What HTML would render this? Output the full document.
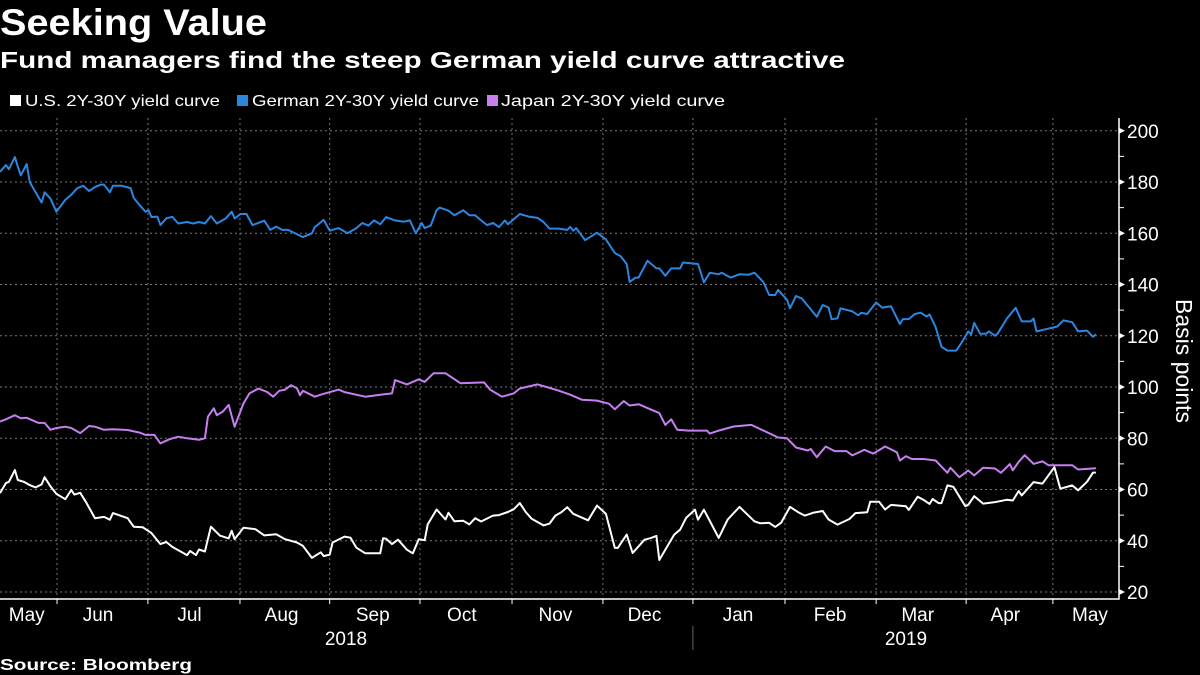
<!DOCTYPE html>
<html><head><meta charset="utf-8"><style>
html,body{margin:0;padding:0;background:#000;}
svg{display:block;font-family:"Liberation Sans","DejaVu Sans",sans-serif;}
</style></head><body>
<svg id="chart" width="1200" height="675" viewBox="0 0 1200 675" xmlns="http://www.w3.org/2000/svg">
<rect width="1200" height="675" fill="#000"/>
<text x="0" y="35" fill="#fff" font-size="37" font-weight="bold" textLength="267" lengthAdjust="spacingAndGlyphs">Seeking Value</text>
<text x="0" y="68" fill="#fff" font-size="23" font-weight="bold" textLength="845" lengthAdjust="spacingAndGlyphs">Fund managers find the steep German yield curve attractive</text>
<g>
<g><rect x="10" y="95" width="11" height="11" fill="#fff"/><text x="25" y="106" fill="#fff" font-size="16" textLength="195" lengthAdjust="spacingAndGlyphs">U.S. 2Y-30Y yield curve</text></g>
<g><rect x="237" y="95" width="11" height="11" fill="#2b86e0"/><text x="252" y="106" fill="#fff" font-size="16" textLength="227" lengthAdjust="spacingAndGlyphs">German 2Y-30Y yield curve</text></g>
<g><rect x="487" y="95" width="11" height="11" fill="#c77ff0"/><text x="501" y="106" fill="#fff" font-size="16" textLength="224" lengthAdjust="spacingAndGlyphs">Japan 2Y-30Y yield curve</text></g>
</g>
<g id="grid"></g>
<g id="axes"></g>
<g id="series"></g>
<text x="0" y="670" fill="#fff" font-size="16" font-weight="bold" textLength="192" lengthAdjust="spacingAndGlyphs">Source: Bloomberg</text>
</svg>
<script>
const yTicks=[20,40,60,80,100,120,140,160,180,200];
const monthLabels=["May","Jun","Jul","Aug","Sep","Oct","Nov","Dec","Jan","Feb","Mar","Apr","May"];
const monthLabelDays=[9,33,63.8,94.8,125.5,155.5,187,217,248.5,279.5,309,338.5,367];
const monthStartDays=[19.2,49.8,80.8,111,141.4,172.4,203,233.3,264.3,295,325.3,354.5];
const yearLabels=["2018","2019"];
const deDays=[0,2,3,5,6,7,9,10,12,14,15,17,19,22,24,26,28,30,32,34,35,37,38,41,44,45,47,49,50,51,53,54,56,58,60,63,65,67,69,71,73,76,78,79,81,83,85,89,91,93,95,97,102,105,106,109,111,114,117,120,122,124,126,128,130,133,136,138,140,142,143,145,147,148,151,153,156,158,160,162,164,166,168,170,171,175,178,181,183,185,188,191,192,193,194,197,201,204,207,209,211,212,214,215,218,221,222,224,226,229,230,235,237,239,242,243,246,249,252,254,257,259,261,262,265,266,268,270,275,277,279,280,282,283,287,289,290,292,295,297,300,303,304,306,308,310,312,313,315,317,319,322,324,326,327,328,330,332,333,335,336,339,342,344,347,348,349,352,356,358,361,363,366,368,369];
const deVals=[184,186.6,185,189.7,186,182.6,187,180,176,172,176,173.5,168.4,173,175,177.6,178.5,176.5,178,179,179,176,178.5,178.5,177.6,173.8,171,168.4,169,166.3,166.5,163.2,165.8,166.4,163.8,164.4,163.8,164.4,163.8,166.7,163.8,165.8,168.4,165.8,167.5,167.5,163.2,164.9,161.3,162.6,161.3,161.3,158.5,160,162.4,165.2,161,162,160,162,164,163,165,163.5,166.3,165,164.5,165,160,164,162,163,169,170,168.8,167,169,167,167,165,163.2,164,162.4,165,163.5,167.5,166.5,166,164.4,161.8,161.8,161.3,162.5,161,162,157.3,160.2,157.6,152.3,151,148,141,142.7,142.7,149.3,146.3,146.3,143.4,146.3,146.3,148.6,148,140.8,144.6,144,144.6,142.7,144,143.8,144.6,141,135.9,135.9,137.9,134,130.7,135.5,134.5,127.4,132,131,126.4,126.8,130.7,129.5,128,129,128.5,133,131,131.5,124.6,126.5,126.5,128.5,129,127.5,128.3,123.4,115.7,114.2,114.2,117.7,121.7,120.5,125,120.8,120.8,121.7,120,121,126.7,130.9,125.6,125.6,126.7,121.7,122.5,123.6,126,125.3,121.7,122,119.6,120.6];
const jpDays=[0,2,5,7,9,13,15,17,19,22,24,27,30,32,35,38,43,47,49,52,54,57,60,63,67,69,70,72,73,75,77,79,82,84,87,90,92,94,96,98,100,101,102,106,108,114,116,123,128,132,133,137,141,143,146,150,155,163,165,169,173,175,181,184,188,192,196,199,201,205,207,210,212,215,219,222,224,226,228,232,238,239,242,247,253,262,265,268,272,273,275,278,281,285,287,291,294,298,302,303,305,307,311,315,319,320,323,326,328,331,335,337,340,341,343,345,348,351,353,361,363,369];
const jpVals=[86.5,87.4,89,87.8,88,86,86,83.3,84,84.5,84,82,84.8,84.5,83.3,83.5,83.2,82.2,81.3,81.3,78,79.6,80.6,80,79.4,80,88.4,91.7,89,90.4,93,84.5,93.6,97.5,99.4,98,96.2,98.5,99,100.7,99.5,96.8,98.5,96.2,97,99,98,96.2,97,97.5,102.7,101,103,102,105.4,105.4,101.5,101.8,99,96.2,97.5,99.4,101,100,98.6,97,95,94.8,94.7,93.5,91.3,94.5,92.8,93.3,91.3,89.8,85.2,87.4,83.3,83,83,81.8,83,84.6,85.2,80.3,80,76.4,75.2,75.8,72.6,76.8,75,75,73.3,75.5,74,76.8,74.5,71.3,73,71.9,71.9,71.3,66.5,68.5,64.8,67.4,65.5,68.5,68.2,66.5,69.9,67.5,70.8,73.4,70,71,69.5,69.5,67.8,68.3];
const usDays=[0,2,3,5,6,8,10,12,14,15,17,19,22,24,25,27,29,32,35,37,38,43,45,48,51,54,56,58,63,64,66,67,69,71,73,74,77,78,79,82,86,89,93,96,100,102,105,108,109,111,112,116,118,120,123,128,129,130,132,134,137,139,141,143,144,147,150,151,153,156,158,160,162,166,168,171,173,175,177,179,183,185,187,189,191,193,198,201,204,207,208,211,213,217,219,221,222,225,227,229,231,234,235,237,242,245,249,254,256,259,261,263,266,269,271,274,277,279,282,286,288,292,293,296,298,300,305,306,309,311,313,314,316,317,319,321,325,326,328,331,335,339,341,343,344,348,351,355,357,361,363,366,368,369];
const usVals=[58.6,62.5,63,67.6,63.7,63,61.7,60.8,62,64.8,61.2,58.3,56.2,59.8,58,58.7,55,48.8,49.3,48.2,50.8,48.8,45.5,45.3,43,38.7,39.5,37.6,34.4,36,34.4,36.6,35.8,45.5,43.2,42,40.9,43.9,40.6,45.1,44.5,42.1,42.5,40.6,39.3,38,33.3,35.5,34,34.6,39.3,41.6,41.2,37.3,35.1,35.1,41,40.8,38.7,40.4,36.5,35.1,40.6,40.2,46.4,52.2,48.3,50.9,47.6,47.8,46.4,48.8,47.5,49.8,50,51.2,52.3,54.7,51.2,48.6,46,46.7,49.8,51.1,53.1,50.5,48,53.7,50.5,37.2,37.2,42.4,35.2,40.4,41,41.9,32.5,38.5,42.4,44.3,48.9,52.1,48.2,52.1,41.1,48.3,53.2,47.6,46.8,47,45.4,47,53.2,51,49.8,51,51.6,48.3,46.3,48.5,50.8,51.1,55.2,55.2,52.2,54,53.5,52,57.2,55.9,54.4,56.3,54.7,54.7,61.6,61,53.5,54,57.4,54.5,55.1,56,55.7,59.4,57.7,62.9,62.3,68.7,60.3,61.6,59.7,63,66.6,66.6];

const NS="http://www.w3.org/2000/svg";
const PX_PER_DAY=2.97, AXIS_X=1119, Y0=592, YSTEP=2.5625;
function xS(d){return d*PX_PER_DAY;}
function yS(v){return Y0-(v-20)*YSTEP;}
function mk(tag,attrs,parent){const e=document.createElementNS(NS,tag);for(const k in attrs)e.setAttribute(k,attrs[k]);parent.appendChild(e);return e;}
const grid=document.getElementById('grid'),axes=document.getElementById('axes'),series=document.getElementById('series');
yTicks.forEach(v=>{
  const y=yS(v);
  const g=mk('line',{x1:0,x2:AXIS_X,y1:y,y2:y,stroke:'#777','stroke-width':1,'stroke-dasharray':'2,3'},grid);
  
  
  const t=mk('path',{d:`M${AXIS_X} ${y-3}L${AXIS_X+6} ${y}L${AXIS_X} ${y+3}Z`,fill:'#fff'},axes);
  
  
  if(v<200){const m=mk('line',{x1:AXIS_X,x2:AXIS_X+5,y1:y-10*YSTEP,y2:y-10*YSTEP,stroke:'#fff'},axes);
  
  }
  const l=mk('text',{x:AXIS_X+8,y:y+7,fill:'#fff','font-size':19},axes);l.textContent=v;
  
  
});
monthStartDays.forEach((d,i)=>{
  const x=xS(d);
  const g=mk('line',{x1:x,x2:x,y1:118,y2:599,stroke:'#777','stroke-width':1,'stroke-dasharray':'2,3'},grid);
  
  
  const t=mk('line',{x1:x,x2:x,y1:599,y2:604,stroke:'#fff'},axes);
  
  
});
monthLabels.forEach((m,i)=>{
  const cx=xS(monthLabelDays[i]);
  const t=mk('text',{x:cx,y:621,fill:'#fff','font-size':19,'text-anchor':'middle'},axes);t.textContent=m;
  
  
});
const jan=xS(monthStartDays[7]);
[[346,yearLabels[0]],[906,yearLabels[1]]].forEach(([x,s])=>{
  const t=mk('text',{x:x,y:645,fill:'#fff','font-size':19,'text-anchor':'middle'},axes);t.textContent=s;
  
  
});
const sep=mk('line',{x1:jan,x2:jan,y1:626,y2:650,stroke:'#666'},axes);


const ax=mk('path',{d:`M0 599H${AXIS_X}V118`,fill:'none',stroke:'#fff','stroke-width':1.5},axes);


const yt=mk('text',{x:0,y:0,fill:'#fff','font-size':23,'text-anchor':'middle',transform:'translate(1176,361) rotate(90)'},axes);yt.textContent='Basis points';


function line(days,vals,color,name){
  const d=days.map((t,i)=>(i?'L':'M')+xS(t).toFixed(1)+' '+yS(vals[i]).toFixed(1)).join('');
  const p=mk('path',{d:d,fill:'none',stroke:color,'stroke-width':2,'stroke-linejoin':'round'},series);
  
  
}
line(deDays,deVals,'#2b86e0','german-yield-curve-line');
line(jpDays,jpVals,'#c77ff0','japan-yield-curve-line');
line(usDays,usVals,'#ffffff','us-yield-curve-line');
</script>
</body></html>
